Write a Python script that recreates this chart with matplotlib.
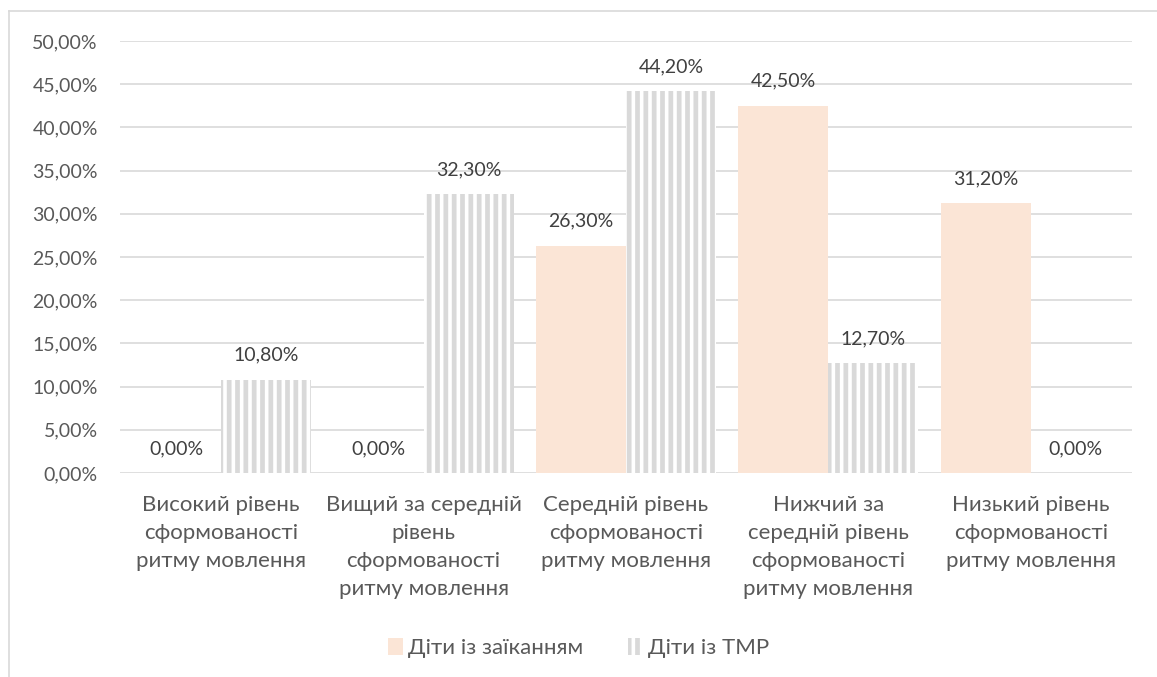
import numpy as np
from matplotlib import pyplot as plt
from matplotlib.lines import Line2D

categories = [
    'Високий рівень\nсформованості\nритму мовлення',
    'Вищий за середній\nрівень\nсформованості\nритму мовлення',
    'Середній рівень\nсформованості\nритму мовлення',
    'Нижчий за\nсередній рівень\nсформованості\nритму мовлення',
    'Низький рівень\nсформованості\nритму мовлення',
]
stutter = [0.0, 0.0, 26.3, 42.5, 31.2]
tmr = [10.8, 32.3, 44.2, 12.7, 0.0]
series_names = ['Діти із заїканням', 'Діти із ТМР']
y_ticks = [0, 5, 10, 15, 20, 25, 30, 35, 40, 45, 50]

plt.rcParams['font.family'] = ['Lato', 'DejaVu Sans']
plt.rcParams['hatch.linewidth'] = 3.4

text_col = '#595959'
label_col = '#404040'
orange = '#FBE5D6'
gray = '#D9D9D9'
fs_num = 14
fs_txt = 16


def pct(v):
    return '{:.2f}%'.format(v).replace('.', ',')


fig = plt.figure(figsize=(11.57, 6.77), dpi=100)
ax = fig.add_axes([0.1037, 0.3013, 0.8747, 0.6381])

x = np.arange(len(categories))
w = 0.445
b1 = ax.bar(x - w / 2, stutter, w, color=orange, linewidth=0, zorder=2)
b2 = ax.bar(x + w / 2, tmr, w, facecolor='white', edgecolor=gray,
            hatch='||', linewidth=0, zorder=2)

for bars, vals in ((b1, stutter), (b2, tmr)):
    for r, v in zip(bars, vals):
        ax.annotate(pct(v), (r.get_x() + r.get_width() / 2, v),
                    xytext=(0, 11.5), textcoords='offset points',
                    ha='center', va='bottom', fontsize=fs_num, color=label_col)

ax.set_xlim(-0.5, len(categories) - 0.5)
ax.set_ylim(0, 50)
ax.set_yticks(y_ticks)
ax.set_yticklabels([pct(v) for v in y_ticks], fontsize=fs_num)
ax.set_xticks(x)
ax.set_xticklabels(categories, linespacing=1.5, fontsize=fs_txt)
ax.tick_params(axis='both', length=0, labelcolor=text_col)
ax.tick_params(axis='y', pad=16)
ax.tick_params(axis='x', pad=16)
ax.grid(axis='y', color=gray, linewidth=1.2, zorder=0)
for s in ax.spines.values():
    s.set_visible(False)

leg = fig.legend([b1, b2], series_names, loc='center', ncol=2,
                 bbox_to_anchor=(0.5, 0.043), frameon=False, fontsize=fs_txt,
                 handlelength=0.65, handleheight=0.8, handletextpad=0.25,
                 columnspacing=2.0)
for t in leg.get_texts():
    t.set_color(text_col)

# chart area border (top and left edges visible)
fig.add_artist(Line2D([9 / 1157, 1], [1 - 11 / 677] * 2, color=gray, lw=1.2))
fig.add_artist(Line2D([9 / 1157] * 2, [0, 1 - 11 / 677], color=gray, lw=1.2))

fig.savefig('out.png', dpi=100)
